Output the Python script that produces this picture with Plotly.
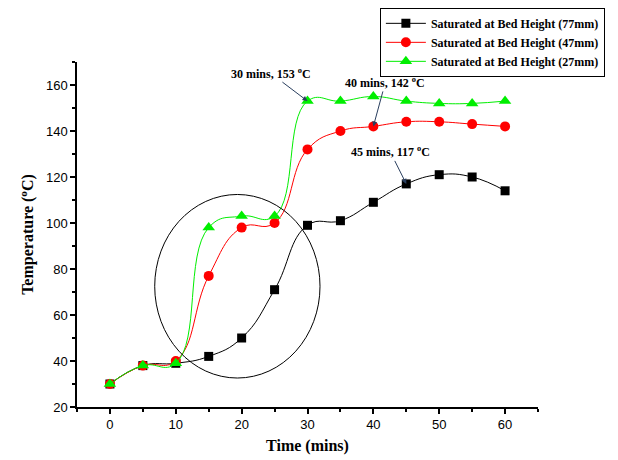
import plotly.graph_objects as go

time = [0, 5, 10, 15, 20, 25, 30, 35, 40, 45, 50, 55, 60]
temp_77 = [30, 38, 39, 42, 50, 71, 99, 101, 109, 117, 121, 120, 114]
temp_47 = [30, 38, 40, 77, 98, 100, 132, 140, 142, 144, 144, 143, 142]
temp_27 = [30, 38, 39, 98, 103, 103, 153, 153, 155, 153, 152, 152, 153]

names = ["Saturated at Bed Height (77mm)",
         "Saturated at Bed Height (47mm)",
         "Saturated at Bed Height (27mm)"]

SERIF = "Liberation Serif"
SANS = "Liberation Sans"

fig = go.Figure()
fig.add_trace(go.Scatter(x=time, y=temp_77, name="<b>" + names[0] + "</b>", mode="lines+markers",
                         line=dict(color="black", width=1, shape="spline", smoothing=1.3),
                         marker=dict(symbol="square", size=9, color="black")))
fig.add_trace(go.Scatter(x=time, y=temp_47, name="<b>" + names[1] + "</b>", mode="lines+markers",
                         line=dict(color="red", width=1, shape="spline", smoothing=1.3),
                         marker=dict(symbol="circle", size=10, color="red")))
fig.add_trace(go.Scatter(x=time, y=temp_27, name="<b>" + names[2] + "</b>", mode="lines+markers",
                         line=dict(color="#00ee00", width=1, shape="spline", smoothing=1.3),
                         marker=dict(symbol="triangle-up", size=11, color="#00ee00")))

fig.add_shape(type="circle", xref="x", yref="y", x0=6.8, x1=31.9, y0=32.6, y1=112.4,
              line=dict(color="black", width=1))

ann_font = dict(family=SERIF, size=12, color="black")
fig.add_annotation(x=30, y=153, text="<b>30 mins, 153 <sup>o</sup>C</b>", showarrow=True,
                   ax=-37, ay=-28, arrowhead=2, arrowsize=1, arrowwidth=1, font=ann_font)
fig.add_annotation(x=40, y=142, text="<b>40 mins, 142 <sup>o</sup>C</b>", showarrow=True,
                   ax=12, ay=-44, arrowhead=2, arrowsize=1, arrowwidth=1, font=ann_font)
fig.add_annotation(x=45, y=117, text="<b>45 mins, 117 <sup>o</sup>C</b>", showarrow=True,
                   ax=-16, ay=-32, arrowhead=2, arrowsize=1, arrowwidth=1, font=ann_font)

fig.update_layout(
    width=610, height=452,
    margin=dict(l=69, r=80, t=54, b=53, autoexpand=False),
    plot_bgcolor="white", paper_bgcolor="white",
    showlegend=True,
    legend=dict(x=0.657, y=1.157, xanchor="left", yanchor="top",
                bordercolor="black", borderwidth=1, bgcolor="white",
                font=dict(family=SERIF, size=12, color="black"),
                tracegroupgap=0, itemwidth=40),
    xaxis=dict(range=[-5, 65], tickvals=[0, 10, 20, 30, 40, 50, 60], automargin=False,
               showgrid=False, zeroline=False, showline=True, linecolor="black", linewidth=1.5,
               ticks="outside", ticklen=5, tickcolor="black", tickwidth=1.5,
               minor=dict(dtick=5, tick0=0, ticks="outside", ticklen=3, tickcolor="black", tickwidth=1.5),
               tickfont=dict(family=SANS, size=13, color="black"),
               title=dict(text="<b>Time (mins)</b>", font=dict(family=SERIF, size=16, color="black"), standoff=8)),
    yaxis=dict(range=[20, 170], tickvals=[20, 40, 60, 80, 100, 120, 140, 160], automargin=False,
               showgrid=False, zeroline=False, showline=True, linecolor="black", linewidth=1.5,
               ticks="outside", ticklen=5, tickcolor="black", tickwidth=1.5,
               minor=dict(dtick=10, tick0=0, ticks="outside", ticklen=3, tickcolor="black", tickwidth=1.5),
               tickfont=dict(family=SANS, size=13, color="black"),
               title=dict(text="<b>Temperature (<sup>o</sup>C)</b>", font=dict(family=SERIF, size=16, color="black"), standoff=8)),
)

fig.write_html("out.html")
